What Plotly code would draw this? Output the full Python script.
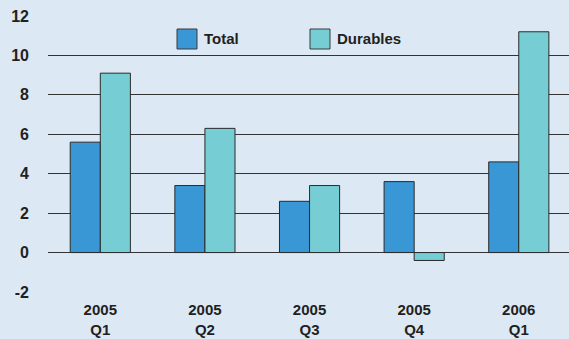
import plotly.graph_objects as go

categories = ["2005<br>Q1", "2005<br>Q2", "2005<br>Q3", "2005<br>Q4", "2006<br>Q1"]
total = [5.6, 3.4, 2.6, 3.6, 4.6]
durables = [9.1, 6.3, 3.4, -0.4, 11.2]
y_ticks = [-2, 0, 2, 4, 6, 8, 10, 12]
y_tick_labels = ["-2", "0", "2", "4", "6", "8", "10", "12"]

bg = "#dde8f5"
c_total = "#3a97d5"
c_dur = "#77cdd4"
edge = "#2a2a2a"
font_family = "Liberation Sans, Arial, sans-serif"
txt = "#231f20"

fig = go.Figure()
fig.add_trace(go.Bar(x=categories, y=total, name="Total",
                     marker=dict(color=c_total, line=dict(color=edge, width=1))))
fig.add_trace(go.Bar(x=categories, y=durables, name="Durables",
                     marker=dict(color=c_dur, line=dict(color=edge, width=1))))

# custom legend with larger swatches
legend_items = [("Total", c_total, 177), ("Durables", c_dur, 310)]
W, H = 569, 339
ml, mr, mt, mb = 48, 0, 16, 47
pw, ph = W - ml - mr, H - mt - mb
for name, col, px in legend_items:
    x0 = (px - ml) / pw
    x1 = (px + 20 - ml) / pw
    y0 = 1 - (49 - mt) / ph
    y1 = 1 - (29 - mt) / ph
    fig.add_shape(type="rect", xref="paper", yref="paper", x0=x0, x1=x1, y0=y0, y1=y1,
                  fillcolor=col, line=dict(color="#3a3a3a", width=1), layer="above")
    fig.add_annotation(xref="paper", yref="paper", x=(px + 25 - ml) / pw, y=(y0 + y1) / 2,
                       text=name, showarrow=False, xanchor="left", yanchor="middle",
                       font=dict(family=font_family, size=15, color=txt))

fig.update_layout(
    width=W, height=H,
    margin=dict(l=ml, r=mr, t=mt, b=mb),
    paper_bgcolor=bg, plot_bgcolor=bg,
    barmode="group", bargap=0.425, bargroupgap=0,
    showlegend=False,
    font=dict(family=font_family, size=15, color=txt, weight="bold"),
)
fig.update_xaxes(showgrid=False, showline=False, ticks="", range=[-0.5, 4.48],
                 automargin=False,
                 tickfont=dict(family=font_family, size=15, color=txt, weight="bold"),
                 ticklabelstandoff=7)
fig.update_yaxes(range=[-2, 12], tickvals=y_ticks, ticktext=y_tick_labels,
                 automargin=False,
                 showgrid=True, gridcolor="#333333",
                 gridwidth=1, zeroline=True, zerolinecolor="#333333", zerolinewidth=1,
                 showline=False, ticks="", ticklabelstandoff=18,
                 tickfont=dict(family=font_family, size=16, color=txt, weight="bold"))

fig.write_html("out.html")
